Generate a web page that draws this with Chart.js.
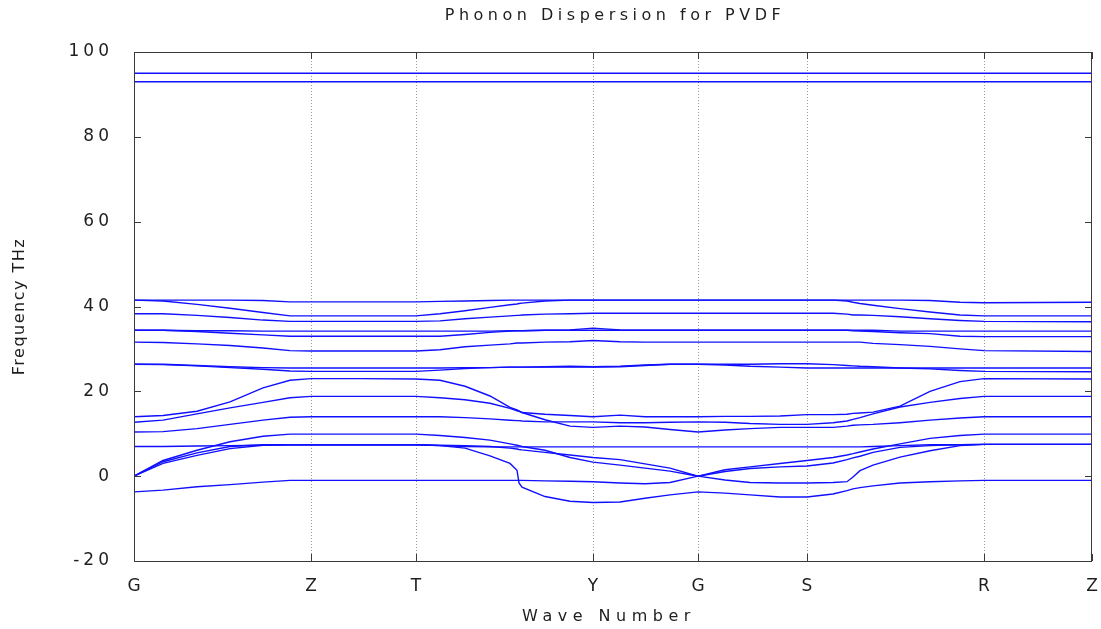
<!DOCTYPE html>
<html>
<head>
<meta charset="utf-8">
<title>Phonon Dispersion for PVDF</title>
<script src="https://cdn.jsdelivr.net/npm/chart.js@4.4.1/dist/chart.umd.min.js"></script>
<style>
  html, body { margin: 0; padding: 0; background: #fff; }
  #wrap { width: 1101px; height: 629px; }
</style>
</head>
<body>
<div id="wrap"><canvas id="dispersion" width="1101" height="629"></canvas></div>
<script>
// high-symmetry points along the k-path
const symLabels = ["G", "Z", "T", "Y", "G", "S", "R", "Z"]
const symDist = [0, 177, 282, 459, 564, 673, 850, 958]

// sampled path positions shared by all bands
const kDist = [0, 29, 63, 96, 129, 156, 177, 226, 282, 306, 331, 356, 376, 383, 385, 388, 411, 436, 459,
  486, 511, 536, 564, 591, 616, 646, 673, 699, 713, 719, 726, 739, 766, 796, 826, 850, 958]

// frequencies in THz (one entry per kDist point)
const bandLow = [-3.7, -3.3, -2.5, -2.0, -1.4, -1.0, -1.0, -1.0, -1.0, -1.0, -1.0, -1.0, -1.0, -1.0, -1.0, -1.0, -1.1, -1.2, -1.3,
  -1.6, -1.8, -1.5, 0.0, -0.9, -1.5, -1.6, -1.6, -1.5, -1.3, -0.2, 1.3, 2.6, 4.5, 6.0, 7.2, 7.5, 7.5]
const bandDip = [0.0, 3.0, 4.9, 6.5, 7.3, 7.4, 7.4, 7.4, 7.4, 7.2, 6.6, 4.8, 3.0, 1.4, -1.6, -2.6, -4.8, -5.9, -6.2,
  -6.1, -5.2, -4.4, -3.7, -4.0, -4.4, -4.9, -4.9, -4.2, -3.4, -3.0, -2.7, -2.3, -1.6, -1.3, -1.1, -1.0, -1.0]
const bandAc1 = [0.0, 3.7, 6.1, 8.1, 9.4, 9.9, 9.9, 9.9, 9.9, 9.6, 9.1, 8.5, 7.6, 7.3, 7.2, 7.0, 6.1, 4.4, 3.3,
  2.6, 1.9, 1.2, 0.0, 1.5, 2.2, 3.0, 3.7, 4.4, 5.0, 5.3, 5.7, 6.4, 7.6, 8.9, 9.6, 9.9, 9.9]
const bandAc2 = [0.0, 3.4, 5.5, 7.0, 7.4, 7.4, 7.4, 7.4, 7.4, 7.3, 7.2, 7.0, 6.6, 6.4, 6.3, 6.2, 5.6, 5.0, 4.4,
  3.9, 2.9, 1.9, 0.0, 1.1, 1.8, 2.2, 2.4, 3.1, 3.9, 4.3, 4.7, 5.6, 6.8, 7.2, 7.4, 7.5, 7.5]
const bandFlat = [7.0, 7.0, 7.1, 7.2, 7.3, 7.4, 7.4, 7.4, 7.4, 7.2, 7.0, 6.9, 6.9, 6.9, 6.9, 6.9, 6.9, 6.9, 6.9,
  6.9, 6.9, 6.9, 6.9, 6.9, 6.9, 6.9, 6.9, 6.9, 6.9, 6.9, 6.9, 7.0, 7.2, 7.4, 7.4, 7.5, 7.5]
const bandM1 = [10.4, 10.5, 11.2, 12.2, 13.2, 13.9, 14.0, 14.0, 14.0, 14.0, 13.8, 13.5, 13.2, 13.1, 13.1, 13.0, 12.8, 12.8, 12.8,
  12.6, 12.6, 12.7, 12.8, 12.7, 12.4, 12.2, 12.2, 12.6, 13.0, 13.4, 13.8, 14.7, 16.3, 17.4, 18.3, 18.8, 18.8]
const bandM2 = [12.7, 13.2, 14.7, 16.1, 17.4, 18.5, 18.8, 18.8, 18.8, 18.5, 18.0, 17.2, 16.0, 15.4, 15.3, 15.0, 14.6, 14.3, 14.0,
  14.4, 14.0, 14.0, 14.0, 14.1, 14.1, 14.2, 14.5, 14.5, 14.6, 14.8, 14.9, 15.1, 16.5, 20.0, 22.3, 23.0, 22.9]
const bandM3 = [14.0, 14.3, 15.3, 17.5, 20.8, 22.6, 23.0, 23.0, 22.9, 22.6, 21.2, 18.9, 16.2, 15.6, 15.4, 15.0, 13.3, 11.8, 11.5,
  11.8, 11.6, 11.0, 10.4, 10.9, 11.2, 11.5, 11.5, 11.5, 11.8, 12.0, 12.1, 12.2, 12.6, 13.2, 13.7, 14.0, 14.0]
const bandU1 = [41.5, 41.5, 41.5, 41.5, 41.4, 41.1, 41.1, 41.1, 41.1, 41.2, 41.3, 41.4, 41.5, 41.5, 41.5, 41.5, 41.5, 41.5, 41.5,
  41.5, 41.5, 41.5, 41.5, 41.5, 41.5, 41.5, 41.5, 41.5, 41.5, 41.5, 41.5, 41.5, 41.5, 41.4, 41.0, 40.9, 41.0]
const bandU2 = [41.5, 41.3, 40.5, 39.6, 38.6, 37.8, 37.8, 37.8, 37.8, 38.3, 39.0, 39.8, 40.4, 40.6, 40.7, 40.8, 41.3, 41.5, 41.5,
  41.5, 41.5, 41.5, 41.5, 41.5, 41.5, 41.5, 41.5, 41.5, 41.3, 41.0, 40.7, 40.3, 39.5, 38.7, 38.0, 37.8, 37.8]
const bandU3 = [38.3, 38.3, 37.9, 37.4, 36.8, 36.5, 36.5, 36.5, 36.5, 36.6, 37.1, 37.5, 37.8, 37.9, 37.9, 38.0, 38.2, 38.3, 38.4,
  38.4, 38.4, 38.4, 38.4, 38.4, 38.4, 38.4, 38.4, 38.4, 38.2, 38.0, 38.0, 37.9, 37.6, 37.1, 36.7, 36.5, 36.4]
const bandU4 = [34.4, 34.4, 34.3, 34.3, 34.2, 34.2, 34.2, 34.2, 34.2, 34.2, 34.2, 34.2, 34.3, 34.3, 34.3, 34.3, 34.4, 34.4, 34.4,
  34.4, 34.4, 34.4, 34.4, 34.4, 34.4, 34.4, 34.4, 34.4, 34.4, 34.4, 34.4, 34.4, 34.2, 34.2, 34.2, 34.2, 34.2]
const bandU5 = [34.4, 34.4, 34.1, 33.7, 33.3, 33.0, 33.0, 33.0, 33.0, 33.0, 33.4, 33.9, 34.2, 34.3, 34.3, 34.3, 34.4, 34.5, 34.9,
  34.5, 34.4, 34.4, 34.4, 34.4, 34.4, 34.4, 34.4, 34.4, 34.4, 34.3, 34.2, 34.1, 33.8, 33.6, 33.0, 32.9, 32.9]
const bandU6 = [31.6, 31.5, 31.2, 30.8, 30.2, 29.6, 29.5, 29.5, 29.5, 29.8, 30.5, 30.9, 31.2, 31.4, 31.4, 31.4, 31.6, 31.7, 32.0,
  31.7, 31.6, 31.6, 31.6, 31.6, 31.6, 31.6, 31.6, 31.6, 31.6, 31.6, 31.6, 31.3, 31.0, 30.6, 30.0, 29.6, 29.4]
const bandU7 = [26.4, 26.4, 26.1, 25.8, 25.6, 25.5, 25.5, 25.5, 25.5, 25.5, 25.6, 25.6, 25.7, 25.7, 25.7, 25.7, 25.8, 25.9, 25.8,
  25.9, 26.2, 26.4, 26.4, 26.4, 26.4, 26.5, 26.5, 26.3, 26.1, 26.0, 25.9, 25.8, 25.5, 25.3, 24.9, 24.7, 24.6]
const bandU8 = [26.4, 26.3, 26.0, 25.6, 25.2, 24.8, 24.7, 24.7, 24.7, 25.0, 25.4, 25.6, 25.7, 25.7, 25.7, 25.7, 25.7, 25.7, 25.7,
  25.8, 26.1, 26.4, 26.4, 26.2, 25.9, 25.7, 25.5, 25.5, 25.5, 25.5, 25.5, 25.5, 25.5, 25.5, 25.5, 25.5, 25.5]
// the two C-H stretching bands are flat over the whole path
const topBands = [95.0, 93.0]

const lineColor = "rgb(16, 16, 255)"
const textColor = "#1e1e1e"
const fontFamily = "'DejaVu Sans', sans-serif"

const sampledBands = [bandLow, bandDip, bandAc1, bandAc2, bandFlat, bandM1, bandM2, bandM3,
  bandU1, bandU2, bandU3, bandU4, bandU5, bandU6, bandU7, bandU8]

const datasets = sampledBands.map(function (band) {
  return { data: band.map((f, i) => ({ x: kDist[i], y: f })) }
})
topBands.forEach(function (f) {
  datasets.push({ data: [{ x: symDist[0], y: f }, { x: symDist[symDist.length - 1], y: f }] })
})
datasets.forEach(function (ds) {
  ds.showLine = true
  ds.borderColor = lineColor
  ds.borderWidth = 1.4
  ds.pointRadius = 0
  ds.fill = false
})

// frame, inward tics and the spaced-out labels gnuplot style
const gnuplotFrame = {
  id: "gnuplotFrame",
  beforeDraw(chart) {
    chart.ctx.letterSpacing = "4px"
  },
  afterDraw(chart) {
    const { ctx, chartArea: a, scales } = chart
    const tic = 7
    ctx.save()
    ctx.strokeStyle = "#3a3a3a"
    ctx.lineWidth = 1
    ctx.setLineDash([])
    ctx.beginPath()
    scales.y.ticks.forEach(function (t) {
      const py = Math.round(scales.y.getPixelForValue(t.value)) + 0.5
      ctx.moveTo(a.left, py); ctx.lineTo(a.left + tic, py)
      ctx.moveTo(a.right, py); ctx.lineTo(a.right - tic, py)
    })
    symDist.forEach(function (d) {
      const px = Math.round(scales.x.getPixelForValue(d)) + 0.5
      ctx.moveTo(px, a.bottom); ctx.lineTo(px, a.bottom - tic)
      ctx.moveTo(px, a.top); ctx.lineTo(px, a.top + tic)
    })
    ctx.stroke()
    ctx.strokeRect(a.left + 0.5, a.top + 0.5, a.right - a.left - 1, a.bottom - a.top)

    ctx.fillStyle = textColor
    ctx.font = "16px " + fontFamily
    ctx.textAlign = "center"
    ctx.textBaseline = "middle"
    const cx = (a.left + a.right) / 2
    ctx.letterSpacing = "4.5px"
    ctx.fillText("Phonon Dispersion for PVDF", cx + 2, 16)
    ctx.letterSpacing = "5.5px"
    ctx.fillText("Wave Number", cx - 4, 617)
    ctx.letterSpacing = "1.5px"
    ctx.translate(20, (a.top + a.bottom) / 2)
    ctx.rotate(-Math.PI / 2)
    ctx.fillText("Frequency THz", 0, 0)
    ctx.restore()
  }
}

const ctx = document.getElementById("dispersion").getContext("2d")

new Chart(ctx, {
  type: "scatter",
  data: { datasets: datasets },
  options: {
    responsive: false,
    animation: false,
    devicePixelRatio: 1,
    layout: { padding: { top: 52, right: 9, bottom: 0, left: 0 } },
    plugins: {
      legend: { display: false },
      tooltip: { enabled: false },
      title: { display: false }
    },
    scales: {
      x: {
        type: "linear",
        min: symDist[0],
        max: symDist[symDist.length - 1],
        afterBuildTicks: function (scale) {
          scale.ticks = symDist.map((v) => ({ value: v }))
        },
        afterFit: function (scale) {
          scale.height = 68
          scale.paddingLeft = 0
          scale.paddingRight = 0
        },
        grid: {
          drawTicks: false,
          lineWidth: 1,
          color: function (c) {
            return c.index === 0 || c.index === symDist.length - 1 ? "rgba(0,0,0,0)" : "#9a9a9a"
          }
        },
        border: { display: false, dash: [1, 2] },
        ticks: {
          autoSkip: false,
          maxRotation: 0,
          padding: 15,
          labelOffset: 2,
          color: textColor,
          font: { family: fontFamily, size: 17 },
          callback: (value, index) => symLabels[index]
        }
      },
      y: {
        min: -20,
        max: 100,
        afterFit: function (scale) {
          scale.width = 134
          scale.paddingTop = 0
          scale.paddingBottom = 0
        },
        grid: { display: false, drawTicks: false },
        border: { display: false },
        ticks: {
          stepSize: 20,
          padding: 21,
          color: textColor,
          font: { family: fontFamily, size: 17 }
        }
      }
    }
  },
  plugins: [gnuplotFrame]
})
</script>
</body>
</html>
